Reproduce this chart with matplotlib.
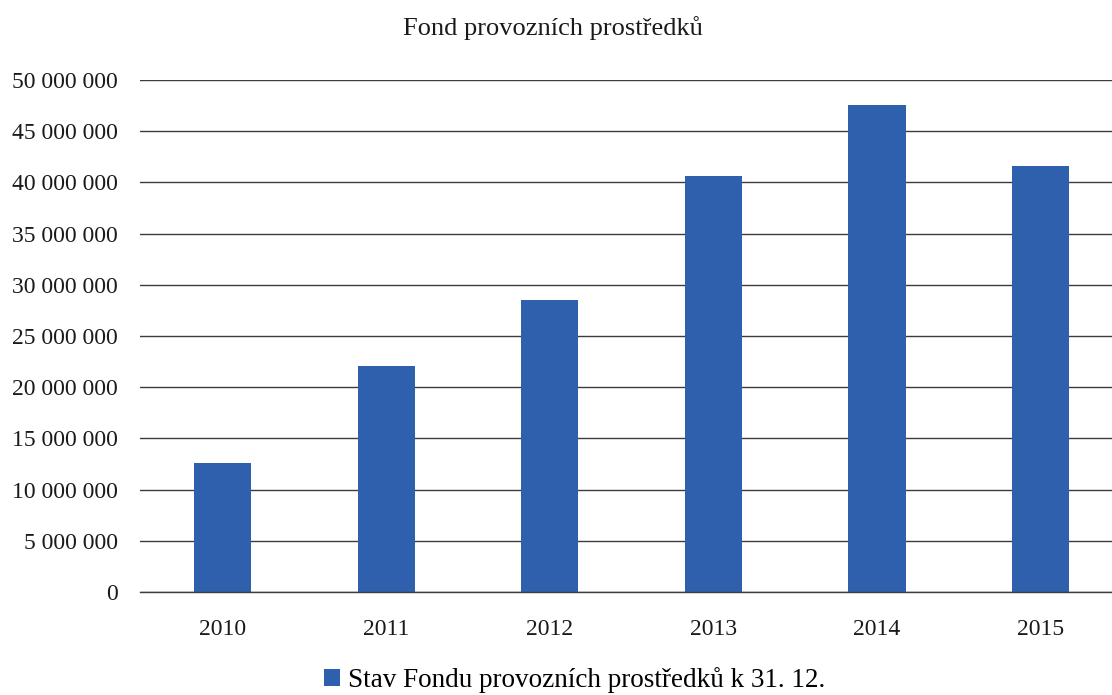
import matplotlib
matplotlib.use("Agg")
import matplotlib.pyplot as plt
from matplotlib.ticker import FuncFormatter

years = ["2010", "2011", "2012", "2013", "2014", "2015"]
values = [12_600_000, 22_070_000, 28_500_000, 40_600_000, 47_560_000, 41_600_000]
series_name = "Stav Fondu provozních prostředků k 31. 12."
title = "Fond provozních prostředků"

BAR = "#2E60AD"
GRID = "#3C3C3C"
INK = "#1A1A1A"

plt.rcParams["font.family"] = ["Liberation Serif", "DejaVu Serif"]

fig = plt.figure(figsize=(11.12, 6.95), dpi=100)
ax = fig.add_axes([0.126, 0.148, 0.874, 0.737])

x = range(len(years))
ax.bar(x, values, width=0.35, color=BAR, label=series_name, zorder=3)

ax.set_ylim(0, 50_000_000)
ax.set_yticks(range(0, 50_000_001, 5_000_000))
ax.yaxis.set_major_formatter(FuncFormatter(lambda v, p: f"{int(v):,}".replace(",", " ")))
ax.set_xlim(-0.504, 5.437)
ax.set_xticks(list(x))
ax.set_xticklabels(years)

ax.grid(axis="y", color=GRID, linewidth=1.0, zorder=0)
ax.axhline(0, color=GRID, linewidth=1.0, clip_on=False, zorder=4)
for s in ax.spines.values():
    s.set_visible(False)
ax.tick_params(axis="both", length=0, labelsize=17, colors=INK)
ax.tick_params(axis="y", pad=16)
ax.tick_params(axis="x", pad=19)

fig.text(0.497, 0.959, title, ha="center", va="center", fontsize=19, color=INK)

fig.legend(loc="center", bbox_to_anchor=(0.517, 0.021), frameon=False, fontsize=19.5,
           handlelength=0.6, handleheight=0.6, handletextpad=0.3)

fig.savefig("out.png", dpi=100, facecolor="white")
